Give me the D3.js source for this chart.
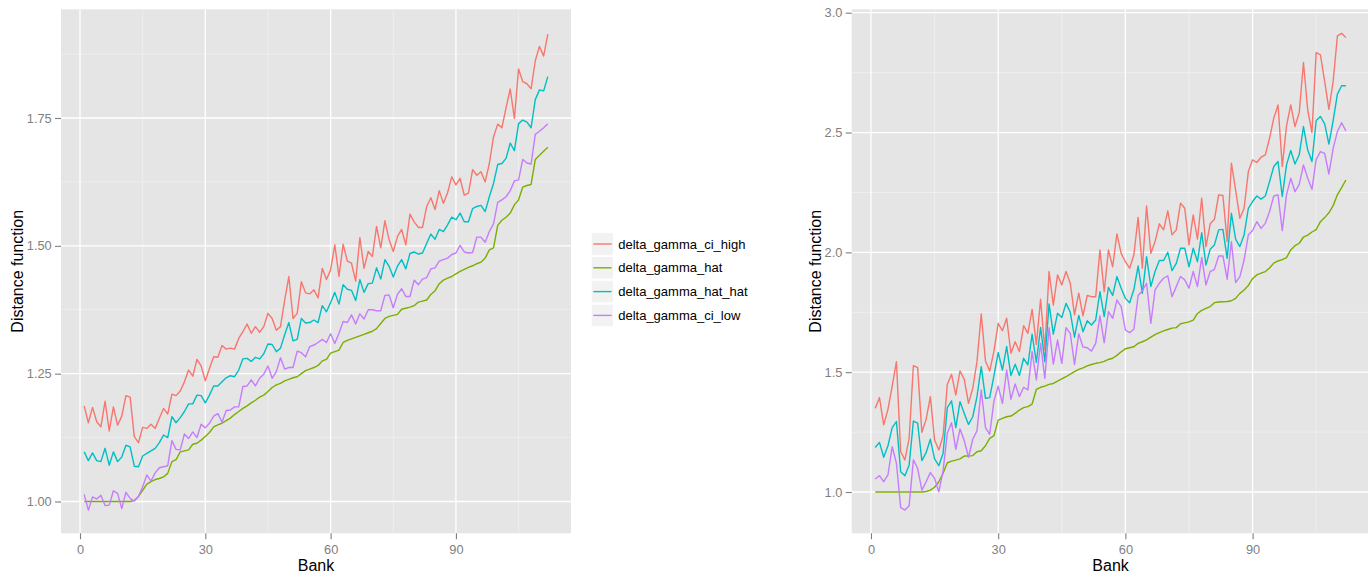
<!DOCTYPE html>
<html><head><meta charset="utf-8">
<script src="https://cdn.jsdelivr.net/npm/d3@7"></script>
<style>body{margin:0;background:#fff} svg{display:block} text{font-family:"Liberation Sans",Arial,sans-serif}</style>
</head><body><svg id="c" width="1368" height="575"></svg>
<script>
const banks = d3.range(1, 113);
const seriesNames = ["delta_gamma_ci_high","delta_gamma_hat","delta_gamma_hat_hat","delta_gamma_ci_low"];
const seriesColors = ["#F8766D","#7CAE00","#00BFC4","#C77CFF"];
const xTicks = [0, 30, 60, 90];
const xMinor = [15, 45, 75, 105];
const leftYTicks = [1.00, 1.25, 1.50, 1.75];
const leftYMinor = [1.125, 1.375, 1.625, 1.875];
const rightYTicks = [1.0, 1.5, 2.0, 2.5, 3.0];
const rightYMinor = [1.25, 1.75, 2.25, 2.75];

const leftCiHigh = [1.187,1.154,1.184,1.156,1.146,1.196,1.138,1.185,1.149,1.167,1.207,1.204,1.127,1.115,1.145,1.143,1.151,1.143,1.163,1.182,
1.171,1.210,1.207,1.216,1.234,1.257,1.245,1.278,1.265,1.236,1.260,1.283,1.282,1.305,1.298,1.300,1.298,1.319,1.332,1.347,
1.329,1.342,1.331,1.342,1.368,1.358,1.335,1.342,1.394,1.440,1.358,1.368,1.430,1.408,1.406,1.414,1.398,1.456,1.434,1.453,
1.502,1.440,1.503,1.470,1.466,1.431,1.516,1.456,1.489,1.479,1.538,1.496,1.549,1.512,1.489,1.518,1.532,1.502,1.562,1.547,
1.536,1.536,1.577,1.594,1.571,1.608,1.583,1.604,1.635,1.619,1.632,1.599,1.603,1.649,1.638,1.645,1.625,1.661,1.713,1.738,
1.731,1.770,1.807,1.749,1.846,1.821,1.817,1.807,1.862,1.890,1.871,1.914];
const leftHat = [1.000,1.000,1.000,1.000,1.000,1.000,1.000,1.000,1.000,1.000,1.000,1.000,1.002,1.010,1.022,1.034,1.039,1.043,1.045,1.048,
1.055,1.078,1.082,1.097,1.099,1.101,1.112,1.114,1.120,1.127,1.135,1.146,1.150,1.153,1.158,1.163,1.170,1.176,1.182,1.187,
1.193,1.198,1.204,1.208,1.215,1.223,1.228,1.231,1.236,1.239,1.242,1.244,1.250,1.256,1.259,1.262,1.266,1.275,1.278,1.290,
1.293,1.296,1.311,1.315,1.318,1.321,1.324,1.327,1.330,1.333,1.338,1.348,1.358,1.362,1.364,1.366,1.376,1.378,1.380,1.383,
1.390,1.392,1.394,1.405,1.412,1.426,1.433,1.437,1.440,1.445,1.450,1.454,1.458,1.461,1.465,1.468,1.476,1.492,1.496,1.540,
1.550,1.556,1.564,1.580,1.590,1.615,1.618,1.620,1.669,1.677,1.685,1.693];
const leftHatHat = [1.097,1.080,1.095,1.080,1.078,1.104,1.071,1.097,1.078,1.087,1.110,1.107,1.069,1.068,1.089,1.094,1.099,1.104,1.115,1.130,
1.125,1.166,1.154,1.164,1.176,1.191,1.191,1.208,1.207,1.193,1.208,1.226,1.226,1.234,1.242,1.246,1.244,1.257,1.279,1.280,
1.274,1.282,1.279,1.289,1.308,1.307,1.293,1.300,1.326,1.350,1.314,1.317,1.358,1.349,1.350,1.355,1.350,1.383,1.371,1.389,
1.409,1.386,1.424,1.415,1.413,1.393,1.434,1.409,1.426,1.427,1.457,1.435,1.473,1.460,1.439,1.460,1.473,1.455,1.485,1.488,
1.484,1.486,1.505,1.523,1.513,1.532,1.528,1.541,1.556,1.551,1.564,1.547,1.547,1.573,1.577,1.579,1.567,1.596,1.622,1.659,
1.661,1.671,1.701,1.686,1.739,1.746,1.742,1.731,1.786,1.805,1.803,1.831];
const leftCiLow = [1.014,0.983,1.009,1.005,1.012,0.992,0.993,1.021,1.016,0.986,1.018,1.006,1.001,1.010,1.029,1.052,1.040,1.056,1.066,1.068,
1.070,1.119,1.102,1.101,1.132,1.123,1.136,1.125,1.151,1.144,1.153,1.167,1.172,1.155,1.178,1.179,1.185,1.185,1.225,1.226,
1.238,1.226,1.241,1.249,1.265,1.241,1.254,1.281,1.259,1.262,1.262,1.294,1.291,1.283,1.303,1.306,1.311,1.317,1.311,1.328,
1.309,1.329,1.352,1.350,1.365,1.347,1.367,1.357,1.375,1.375,1.373,1.373,1.403,1.404,1.379,1.405,1.416,1.401,1.401,1.433,
1.424,1.435,1.438,1.455,1.457,1.470,1.473,1.476,1.483,1.486,1.501,1.488,1.486,1.487,1.517,1.517,1.507,1.528,1.543,1.585,
1.590,1.596,1.608,1.627,1.629,1.669,1.662,1.660,1.718,1.724,1.731,1.739];

const rightCiHigh = [1.349,1.394,1.280,1.345,1.442,1.544,1.168,1.134,1.224,1.527,1.519,1.249,1.303,1.398,1.217,1.175,1.235,1.449,1.491,1.405,
1.505,1.470,1.370,1.433,1.544,1.743,1.547,1.505,1.588,1.704,1.673,1.725,1.579,1.627,1.586,1.694,1.662,1.762,1.616,1.804,
1.593,1.920,1.780,1.906,1.864,1.920,1.871,1.739,1.830,1.735,1.820,1.815,1.815,2.010,1.836,2.010,1.940,2.077,1.996,1.961,
1.934,1.989,2.146,1.934,2.194,1.996,2.045,2.119,2.094,2.173,2.073,2.094,2.205,2.184,2.031,2.156,2.055,2.226,2.024,2.119,
2.138,2.240,2.237,2.045,2.372,2.260,2.142,2.184,2.337,2.386,2.375,2.397,2.407,2.476,2.560,2.615,2.358,2.528,2.615,2.525,
2.583,2.792,2.594,2.500,2.834,2.824,2.713,2.597,2.713,2.903,2.914,2.896];
const rightHat = [1.000,1.000,1.000,1.000,1.000,1.000,1.000,1.000,1.000,1.000,1.000,1.000,1.002,1.008,1.020,1.043,1.078,1.122,1.129,1.133,
1.138,1.150,1.150,1.152,1.168,1.172,1.193,1.224,1.235,1.300,1.307,1.314,1.317,1.328,1.342,1.352,1.356,1.367,1.428,1.437,
1.442,1.449,1.453,1.463,1.472,1.481,1.492,1.502,1.512,1.518,1.526,1.532,1.537,1.540,1.545,1.553,1.558,1.570,1.585,1.598,
1.602,1.606,1.620,1.627,1.635,1.646,1.657,1.665,1.672,1.678,1.684,1.686,1.702,1.706,1.710,1.717,1.745,1.758,1.766,1.774,
1.790,1.793,1.794,1.795,1.798,1.808,1.829,1.843,1.862,1.890,1.906,1.913,1.920,1.935,1.955,1.964,1.970,1.978,2.010,2.028,
2.038,2.064,2.072,2.085,2.095,2.128,2.145,2.165,2.195,2.240,2.270,2.302];
const rightHatHat = [1.186,1.207,1.145,1.193,1.269,1.294,1.085,1.068,1.113,1.296,1.287,1.131,1.164,1.220,1.138,1.110,1.161,1.352,1.380,1.269,
1.377,1.328,1.282,1.314,1.398,1.523,1.391,1.394,1.486,1.582,1.509,1.607,1.486,1.533,1.486,1.558,1.530,1.659,1.541,1.687,
1.544,1.785,1.659,1.746,1.728,1.787,1.750,1.646,1.737,1.669,1.715,1.697,1.718,1.836,1.732,1.854,1.820,1.899,1.850,1.808,
1.790,1.845,1.943,1.829,1.982,1.857,1.920,1.966,1.966,2.000,1.924,1.954,2.017,2.017,1.940,2.017,1.961,2.082,1.947,2.013,
2.031,2.094,2.096,1.975,2.163,2.055,2.024,2.073,2.184,2.212,2.235,2.222,2.235,2.295,2.358,2.379,2.233,2.365,2.425,2.369,
2.407,2.525,2.427,2.379,2.550,2.567,2.536,2.452,2.550,2.660,2.695,2.695];
const rightCiLow = [1.054,1.068,1.043,1.071,1.189,1.120,0.935,0.925,0.943,1.134,1.099,1.008,1.043,1.081,1.057,1.001,1.088,1.245,1.289,1.178,
1.263,1.214,1.145,1.220,1.255,1.426,1.269,1.241,1.380,1.442,1.370,1.509,1.387,1.451,1.398,1.437,1.426,1.586,1.468,1.620,
1.474,1.686,1.534,1.634,1.537,1.686,1.662,1.532,1.660,1.605,1.602,1.588,1.620,1.735,1.623,1.753,1.725,1.801,1.774,1.676,
1.665,1.679,1.820,1.840,1.871,1.704,1.843,1.871,1.892,1.902,1.815,1.857,1.899,1.885,1.850,1.920,1.857,1.979,1.864,1.920,
1.929,1.985,1.985,1.888,2.045,1.874,1.899,1.968,2.073,2.091,2.128,2.100,2.121,2.170,2.235,2.240,2.091,2.240,2.309,2.253,
2.284,2.365,2.309,2.263,2.388,2.420,2.413,2.327,2.434,2.504,2.541,2.507];

const svg = d3.select("#c");
svg.append("rect").attr("width",1368).attr("height",575).attr("fill","#fff");

function panel(opt) {
  const x = d3.scaleLinear().domain([-4.55, 117.55]).range([opt.x0, opt.x1]);
  const y = d3.scaleLinear().domain(opt.yDomain).range([opt.y1, opt.y0]);
  const g = svg.append("g");
  g.append("rect").attr("x",opt.x0).attr("y",opt.y0).attr("width",opt.x1-opt.x0).attr("height",opt.y1-opt.y0).attr("fill","#E5E5E5");
  g.selectAll(".mx").data(xMinor).enter().append("line")
    .attr("x1",d=>x(d)).attr("x2",d=>x(d)).attr("y1",opt.y0).attr("y2",opt.y1)
    .attr("stroke","#F2F2F2").attr("stroke-width",0.7);
  g.selectAll(".my").data(opt.yMinor).enter().append("line")
    .attr("y1",d=>y(d)).attr("y2",d=>y(d)).attr("x1",opt.x0).attr("x2",opt.x1)
    .attr("stroke","#F2F2F2").attr("stroke-width",0.7);
  g.selectAll(".gx").data(xTicks).enter().append("line")
    .attr("x1",d=>x(d)).attr("x2",d=>x(d)).attr("y1",opt.y0).attr("y2",opt.y1)
    .attr("stroke","#fff").attr("stroke-width",1.3);
  g.selectAll(".gy").data(opt.yTicks).enter().append("line")
    .attr("y1",d=>y(d)).attr("y2",d=>y(d)).attr("x1",opt.x0).attr("x2",opt.x1)
    .attr("stroke","#fff").attr("stroke-width",1.3);
  const line = d3.line().x((d,i)=>x(banks[i])).y(d=>y(d));
  opt.series.forEach((s,k)=>{
    g.append("path").attr("d",line(s)).attr("fill","none")
      .attr("stroke",seriesColors[k]).attr("stroke-width",1.4).attr("stroke-linejoin","round");
  });
  const ax = g.append("g").attr("transform",`translate(0,${opt.y1})`)
    .call(d3.axisBottom(x).tickValues(xTicks).tickSize(6).tickPadding(5.2).tickFormat(d3.format("d")));
  const ay = g.append("g").attr("transform",`translate(${opt.x0},0)`)
    .call(d3.axisLeft(y).tickValues(opt.yTicks).tickSize(6).tickPadding(3.3).tickFormat(d3.format(opt.yFmt)));
  [ax,ay].forEach(a=>{
    a.select(".domain").remove();
    a.selectAll(".tick line").attr("stroke","#7F7F7F").attr("stroke-width",1.1);
    a.selectAll(".tick text").attr("fill","#7F7F7F").attr("font-size","12.8px")
      .attr("font-family",'"Liberation Sans",Arial,sans-serif');
  });
  g.append("text").attr("x",(opt.x0+opt.x1)/2).attr("y",570.8).attr("text-anchor","middle")
    .attr("font-size","16px").attr("fill","#000").text("Bank");
  g.append("text").attr("transform",`translate(${opt.titleX},${(opt.y0+opt.y1)/2}) rotate(-90)`)
    .attr("text-anchor","middle").attr("font-size","16px").attr("fill","#000").text("Distance function");
}

panel({x0:61, x1:571, y0:9.3, y1:533.3, yDomain:[0.9378,1.9626], yTicks:leftYTicks, yMinor:leftYMinor, yFmt:".2f",
  titleX:22.5, series:[leftCiHigh,leftHat,leftHatHat,leftCiLow]});
panel({x0:851.7, x1:1369.4, y0:9.3, y1:533.3, yDomain:[0.8277,3.0142], yTicks:rightYTicks, yMinor:rightYMinor, yFmt:".1f",
  titleX:821, series:[rightCiHigh,rightHat,rightHatHat,rightCiLow]});

const lg = svg.append("g");
seriesNames.forEach((n,k)=>{
  const ty = 232.7 + k*23.8;
  lg.append("rect").attr("x",591.2).attr("y",ty).attr("width",22.4).attr("height",22.6)
    .attr("fill","#F2F2F2").attr("stroke","#fff").attr("stroke-width",1);
  lg.append("line").attr("x1",593.3).attr("x2",611.6).attr("y1",ty+11.3).attr("y2",ty+11.3)
    .attr("stroke",seriesColors[k]).attr("stroke-width",1.4);
  lg.append("text").attr("x",618.2).attr("y",ty+11.3).attr("dy","0.35em")
    .attr("font-size","13px").attr("fill","#000").text(n);
});
</script></body></html>
